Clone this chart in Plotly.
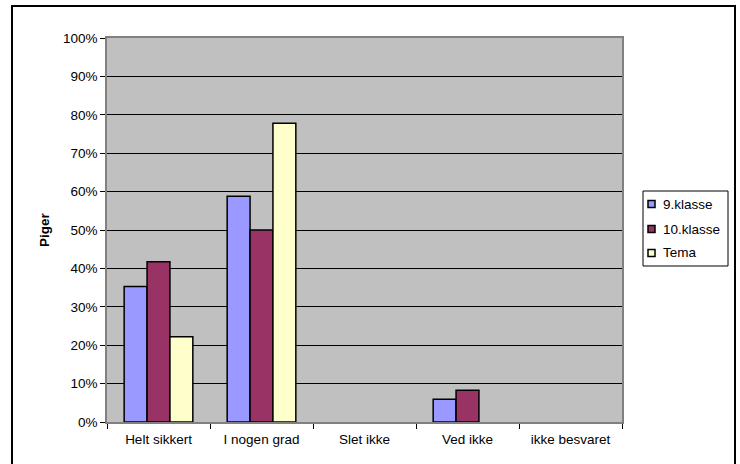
import plotly.graph_objects as go

categories = ["Helt sikkert", "I nogen grad", "Slet ikke", "Ved ikke", "ikke besvaret"]
klasse9 = [0.353, 0.588, 0.0, 0.059, 0.0]
klasse10 = [0.417, 0.500, 0.0, 0.083, 0.0]
tema = [0.222, 0.778, 0.0, 0.0, 0.0]
series_names = ["9.klasse", "10.klasse", "Tema"]
series_colors = ["#9999FF", "#993366", "#FFFFCC"]

FONT = "Liberation Sans, Arial, sans-serif"
FS = 13.5

L, R, T, B = 107, 622, 38, 422
W, H = 740, 464
pw, ph = R - L, B - T


def px(x):
    return (x - L) / pw


def py(y):
    return (B - y) / ph


fig = go.Figure()
for name, vals, col in zip(series_names, [klasse9, klasse10, tema], series_colors):
    fig.add_trace(go.Bar(
        x=categories, y=[v if v > 0 else None for v in vals], name=name,
        marker=dict(color=col, line=dict(color="black", width=1.5)),
        showlegend=False, hoverinfo="skip",
    ))

shapes = [dict(
    type="rect", xref="paper", yref="paper",
    x0=px(12), x1=px(735), y0=py(468), y1=py(6),
    line=dict(color="black", width=2), fillcolor="rgba(0,0,0,0)", layer="below",
)]
annotations = []

# legend (drawn manually, Excel style)
shapes.append(dict(type="rect", xref="paper", yref="paper",
                   x0=px(643), x1=px(728), y0=py(266), y1=py(191),
                   line=dict(color="black", width=1), fillcolor="white", layer="above"))
leg_y = [204, 229, 253]
for name, col, yy in zip(series_names, series_colors, leg_y):
    shapes.append(dict(type="rect", xref="paper", yref="paper",
                       x0=px(648), x1=px(655), y0=py(yy + 3.5), y1=py(yy - 3.5),
                       line=dict(color="black", width=1.5), fillcolor=col, layer="above"))
    annotations.append(dict(xref="paper", yref="paper", x=px(661), y=py(yy),
                            xanchor="left", yanchor="middle", showarrow=False,
                            text=name, font=dict(family=FONT, size=FS, color="black")))

fig.update_layout(
    width=W, height=H,
    margin=dict(l=L, r=W - R, t=T, b=H - B, pad=0, autoexpand=False),
    paper_bgcolor="white", plot_bgcolor="#C0C0C0",
    barmode="group", bargap=1.5 / 4.5, bargroupgap=0,
    font=dict(family=FONT, size=FS, color="black"),
    showlegend=False,
    xaxis=dict(
        showline=True, linecolor="#808080", linewidth=1.5, mirror=True,
        ticks="outside", tickson="boundaries", ticklen=5, tickcolor="black",
        showgrid=False, tickfont=dict(family=FONT, size=FS),
        ticklabelstandoff=4,
    ),
    yaxis=dict(
        range=[0, 1], tickformat=".0%", dtick=0.1,
        showline=True, linecolor="#808080", linewidth=1.5, mirror=True,
        ticks="outside", ticklen=5, tickcolor="black",
        showgrid=True, gridcolor="black", gridwidth=1, zeroline=False,
        tickfont=dict(family=FONT, size=FS),
        title=dict(text="<b>Piger</b>", font=dict(family=FONT, size=FS), standoff=10),
    ),
    shapes=shapes,
    annotations=annotations,
)

fig.write_html("out.html", config={"displayModeBar": False},
               post_script="document.body.style.margin='0';")
